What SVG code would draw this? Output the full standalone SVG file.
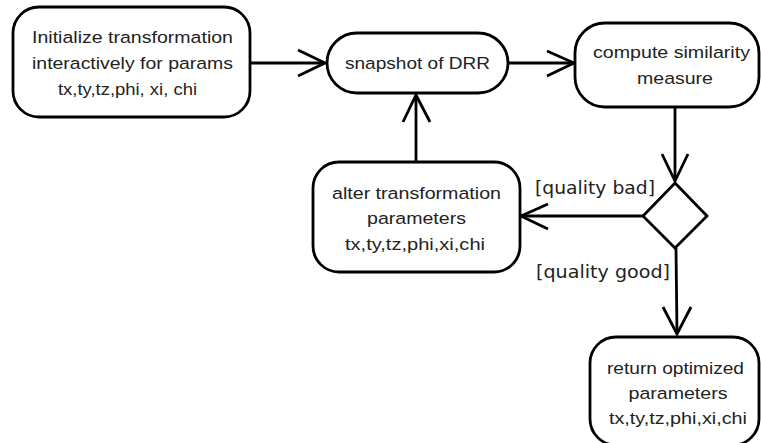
<svg xmlns="http://www.w3.org/2000/svg" width="761" height="443" viewBox="0 0 761 443">
  <defs>
    <style>
      .box { fill: #ffffff; stroke: #000000; stroke-width: 2.8; }
      .edge { fill: none; stroke: #000000; stroke-width: 2.8; }
      .head { fill: none; stroke: #000000; stroke-width: 2.8; stroke-linejoin: miter; }
      .t { font-family: "Liberation Sans", Arial, sans-serif; font-size: 16.3px; fill: #222222; text-anchor: middle; }
      .guard { font-family: "DejaVu Sans", sans-serif; font-size: 17px; fill: #222222; }
    </style>
  </defs>
  <rect width="761" height="443" fill="#ffffff"/>

  <!-- connectors -->
  <g id="connectors">
    <!-- init -> snapshot -->
    <line class="edge" x1="250" y1="63" x2="325" y2="63"/>
    <polyline class="head" points="298,50 325,63 298,76"/>
    <!-- snapshot -> compute -->
    <line class="edge" x1="508" y1="63" x2="574" y2="63"/>
    <polyline class="head" points="547,51 574,63 547,76"/>
    <!-- compute -> decision -->
    <line class="edge" x1="675" y1="107" x2="675" y2="181"/>
    <polyline class="head" points="662,154 675,181 688,154"/>
    <!-- decision -> alter -->
    <line class="edge" x1="643" y1="216" x2="521" y2="216"/>
    <polyline class="head" points="548,204 521,216 548,229"/>
    <!-- alter -> snapshot -->
    <line class="edge" x1="416" y1="162" x2="416" y2="95"/>
    <polyline class="head" points="403,122 416,95 430,122"/>
    <!-- decision -> return -->
    <line class="edge" x1="676" y1="248" x2="677" y2="334"/>
    <polyline class="head" points="663,307 677,334 691,307"/>
    <text class="guard" x="535" y="194" textLength="120" lengthAdjust="spacingAndGlyphs">[quality bad]</text>
    <text class="guard" x="536" y="278" textLength="134" lengthAdjust="spacingAndGlyphs">[quality good]</text>
  </g>

  <g id="init">
    <rect class="box" x="13" y="7" width="237" height="110" rx="26" ry="26"/>
    <text class="t" x="132.5" y="43" textLength="201" lengthAdjust="spacingAndGlyphs">Initialize transformation</text>
    <text class="t" x="132.5" y="69" textLength="201" lengthAdjust="spacingAndGlyphs">interactively for params</text>
    <text class="t" x="127.5" y="95" textLength="139" lengthAdjust="spacingAndGlyphs">tx,ty,tz,phi, xi, chi</text>
  </g>

  <g id="snapshot">
    <rect class="box" x="327" y="33" width="181" height="60" rx="30" ry="30"/>
    <text class="t" x="417.5" y="69" textLength="145" lengthAdjust="spacingAndGlyphs">snapshot of DRR</text>
  </g>

  <g id="compute">
    <rect class="box" x="575" y="23" width="184" height="84" rx="30" ry="30"/>
    <text class="t" x="671.5" y="58" textLength="157" lengthAdjust="spacingAndGlyphs">compute similarity</text>
    <text class="t" x="675" y="84" textLength="76" lengthAdjust="spacingAndGlyphs">measure</text>
  </g>

  <g id="decision">
    <polygon class="box" points="675,183 707,216 675,248 643,216"/>
  </g>

  <g id="alter">
    <rect class="box" x="313" y="162" width="207" height="110" rx="26" ry="26"/>
    <text class="t" x="416.5" y="199" textLength="169" lengthAdjust="spacingAndGlyphs">alter transformation</text>
    <text class="t" x="416.5" y="224" textLength="99" lengthAdjust="spacingAndGlyphs">parameters</text>
    <text class="t" x="415" y="250" textLength="140" lengthAdjust="spacingAndGlyphs">tx,ty,tz,phi,xi,chi</text>
  </g>

  <g id="result">
    <rect class="box" x="590" y="337" width="169" height="108" rx="26" ry="26"/>
    <text class="t" x="675.5" y="374" textLength="137" lengthAdjust="spacingAndGlyphs">return optimized</text>
    <text class="t" x="678" y="399" textLength="99" lengthAdjust="spacingAndGlyphs">parameters</text>
    <text class="t" x="678" y="424" textLength="138" lengthAdjust="spacingAndGlyphs">tx,ty,tz,phi,xi,chi</text>
  </g>
</svg>
